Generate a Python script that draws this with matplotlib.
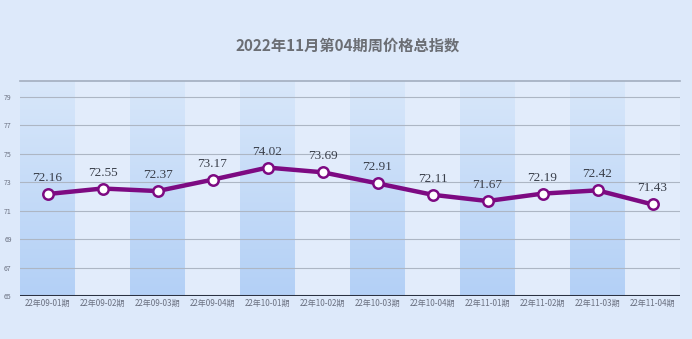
import matplotlib
matplotlib.use("Agg")
import matplotlib.pyplot as plt
import numpy as np
from matplotlib.colors import LinearSegmentedColormap

plt.rcParams['font.family'] = ['Noto Sans CJK SC', 'DejaVu Sans']

title = "2022年11月第04期周价格总指数"
categories = ["22年09-01期", "22年09-02期", "22年09-03期", "22年09-04期",
              "22年10-01期", "22年10-02期", "22年10-03期", "22年10-04期",
              "22年11-01期", "22年11-02期", "22年11-03期", "22年11-04期"]
values = [72.16, 72.55, 72.37, 73.17, 74.02, 73.69, 72.91, 72.11, 71.67, 72.19, 72.42, 71.43]
yticks = [65, 67, 69, 71, 73, 75, 77, 79]

W, H = 692, 339
fig = plt.figure(figsize=(W / 100, H / 100), dpi=100)
fig.patch.set_facecolor("#dde9fa")

ax = fig.add_axes([20 / W, (H - 296) / H, 660 / W, 215 / H])
ax.set_facecolor("#e2ecfb")
n = len(categories)
x = np.arange(n)
ymin, ymax = 65, 80.1
ax.set_xlim(-0.5, n - 0.5)
ax.set_ylim(ymin, ymax)

cmap = LinearSegmentedColormap.from_list("band", ["#b3d0f6", "#d8e7fa"])
grad = np.linspace(0, 1, 256).reshape(-1, 1)
for i in range(n):
    if i % 2 == 0:
        ax.imshow(grad, extent=(i - 0.5, i + 0.5, ymin, ymax), origin="lower",
                  cmap=cmap, aspect="auto", zorder=0)
    else:
        ax.axvspan(i - 0.5, i + 0.5, color="#e2ecfb", zorder=0, lw=0)

for t in yticks[1:]:
    ax.axhline(t, color="#adb6c4", lw=0.8, zorder=1)
ax.axhline(ymin, color="#2b3242", lw=2.2, zorder=3)

ax.plot(x, values, color="#7d0a82", lw=3.2, zorder=4, solid_capstyle="round")
ax.plot(x, values, "o", ms=7.5, mfc="white", mec="#7d0a82", mew=1.8, zorder=5)

for xi, v in zip(x, values):
    ax.text(xi, v + 0.7, f"{v:.2f}", ha="center", va="bottom",
            fontsize=9.5, color="#3a3f4a", family="Liberation Serif", zorder=6)

ax.set_yticks(yticks)
ax.set_yticklabels([str(t) for t in yticks], fontsize=5, color="#6a7080")
ax.set_xticks(x)
ax.set_xticklabels(categories, fontsize=5.8, color="#6a7080")
ax.tick_params(axis="both", length=0, pad=2)
ax.tick_params(axis="y", pad=6)
for s in ["left", "right", "bottom"]:
    ax.spines[s].set_visible(False)
ax.spines["top"].set_color("#a3aebf")
ax.spines["top"].set_linewidth(1.2)

fig.text(348 / W, 1 - 46 / H, title, ha="center", va="center",
         fontsize=11, fontweight="bold", color="#6b6e74")

fig.savefig("out.png", dpi=100, facecolor=fig.get_facecolor())
